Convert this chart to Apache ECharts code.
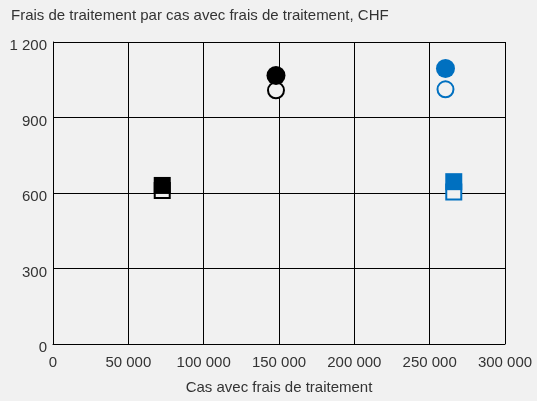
<!DOCTYPE html>
<html>
<head>
<meta charset="utf-8">
<script src="https://cdn.jsdelivr.net/npm/echarts@6/dist/echarts.min.js"></script>
<style>
html,body{margin:0;padding:0;background:#f1f1f1;}
#chart{width:537px;height:401px;}
</style>
</head>
<body>
<div id="chart"></div>
<script>
// valeurs
var blackFilled = [[148000, 1067]];
var blackEmpty = [[148000, 1008]];
var blueFilled = [[260500, 1095]];
var blueEmpty = [[260500, 1012]];
var blackSqFilled = [[72500, 630]];
var blackSqEmpty = [[72500, 610]];
var blueSqFilled = [[266000, 645]];
var blueSqEmpty = [[266000, 604]];

var bg = '#f1f1f1';
var blue = '#0070c0';
var txt = '#333333';

function fmt(v){
	return String(v).replace(/\B(?=(\d{3})+(?!\d))/g, ' ');
}

function emptySeries(data, sym, size, col){
	return {
		type:'scatter', data:data, symbol:sym, symbolSize:size, z:2,
		itemStyle:{color:bg, borderColor:col, borderWidth:2, opacity:1},
		emphasis:{disabled:true}
	};
}
function fullSeries(data, sym, size, col){
	return {
		type:'scatter', data:data, symbol:sym, symbolSize:size, z:3,
		itemStyle:{color:col, opacity:1},
		emphasis:{disabled:true}
	};
}

var chart = echarts.init(document.getElementById('chart'));
chart.setOption({
	backgroundColor:bg,
	animation:false,
	title:{
		text:'Frais de traitement par cas avec frais de traitement, CHF',
		left:6, top:3,
		textStyle:{fontFamily:'Liberation Sans', fontSize:15, fontWeight:'normal', color:txt}
	},
	grid:{left:53, right:32, top:42, bottom:57, outerBoundsMode:'none', containLabel:false},
	xAxis:{
		type:'value', min:0, max:300000, interval:50000,
		name:'Cas avec frais de traitement', nameLocation:'middle', nameGap:36,
		nameTextStyle:{fontFamily:'Liberation Sans', fontSize:15, color:txt},
		axisLine:{show:true, lineStyle:{color:'#000', width:1}},
		axisTick:{show:false},
		splitLine:{show:true, lineStyle:{color:'#000', width:1}},
		axisLabel:{fontFamily:'Liberation Sans', fontSize:15, color:txt, margin:11, formatter:fmt}
	},
	yAxis:{
		type:'value', min:0, max:1200, interval:300,
		axisLine:{show:true, lineStyle:{color:'#000', width:1}},
		axisTick:{show:false},
		splitLine:{show:true, lineStyle:{color:'#000', width:1}},
		axisLabel:{fontFamily:'Liberation Sans', fontSize:15, color:txt, margin:6,
			verticalAlign:'top', lineHeight:8, formatter:fmt}
	},
	series:[
		emptySeries(blackEmpty, 'circle', 16, '#000'),
		fullSeries(blackFilled, 'circle', 19, '#000'),
		emptySeries(blueEmpty, 'circle', 16, blue),
		fullSeries(blueFilled, 'circle', 19, blue),
		emptySeries(blackSqEmpty, 'rect', 15, '#000'),
		fullSeries(blackSqFilled, 'rect', 17, '#000'),
		emptySeries(blueSqEmpty, 'rect', 15, blue),
		fullSeries(blueSqFilled, 'rect', 17, blue)
	]
});
</script>
</body>
</html>
